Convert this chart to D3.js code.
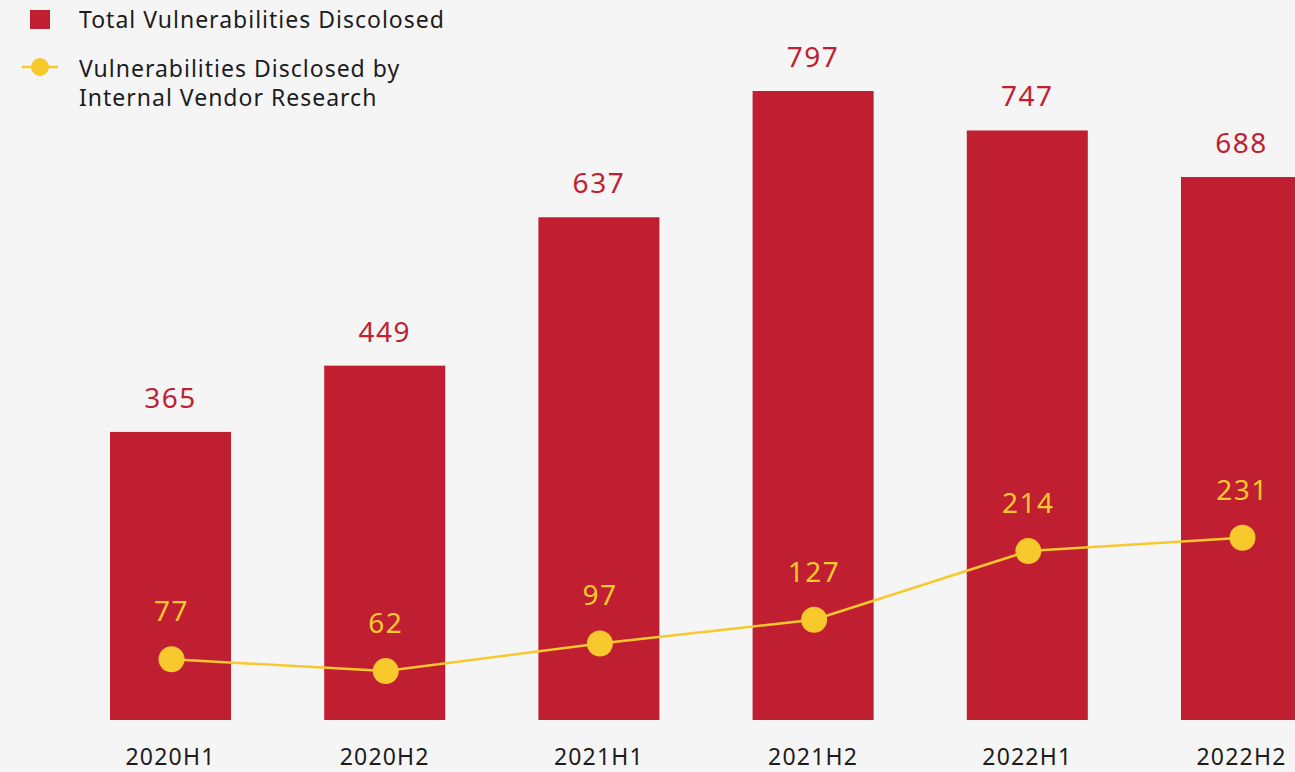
<!DOCTYPE html>
<html>
<head>
<meta charset="utf-8">
<script src="https://cdn.jsdelivr.net/npm/d3@7"></script>
<style>
  html, body { margin: 0; padding: 0; background: #f5f5f5; }
  svg { display: block; font-family: "Noto Sans", "Open Sans", sans-serif; }
</style>
</head>
<body>
<svg id="chart" width="1295" height="772"></svg>
<script>
// Half-year periods
const periods = ["2020H1", "2020H2", "2021H1", "2021H2", "2022H1", "2022H2"];
// Total vulnerabilities disclosed per period
const totalDisclosed = [365, 449, 637, 797, 747, 688];
// Vulnerabilities disclosed by internal vendor research
const internalResearch = [77, 62, 97, 127, 214, 231];
// Legend entries
const legendLabels = ["Total Vulnerabilities Discolosed", ["Vulnerabilities Disclosed by", "Internal Vendor Research"]];

const RED = "#c01f32";
const YELLOW = "#f8c92c";
const TEXT = "#1c1c1c";

const svg = d3.select("#chart");

const x = d3.scaleBand()
  .domain(periods)
  .range([110, 1302])
  .paddingInner(0.435)
  .paddingOuter(0);

const y = d3.scaleLinear()
  .domain([0, 797])
  .range([720, 91]);

// Bars
svg.append("g").selectAll("rect")
  .data(periods)
  .join("rect")
  .attr("x", d => x(d))
  .attr("y", (d, i) => y(totalDisclosed[i]))
  .attr("width", x.bandwidth())
  .attr("height", (d, i) => y(0) - y(totalDisclosed[i]))
  .attr("fill", RED);

// Bar value labels
svg.append("g").selectAll("text")
  .data(periods)
  .join("text")
  .attr("x", d => x(d) + x.bandwidth() / 2)
  .attr("y", (d, i) => y(totalDisclosed[i]) - 24)
  .attr("text-anchor", "middle")
  .attr("fill", RED)
  .attr("font-size", 28)
  .attr("letter-spacing", 1.5)
  .text((d, i) => totalDisclosed[i]);

// Internal research line
const cx = d => x(d) + x.bandwidth() / 2 + 1;
const line = d3.line()
  .x(d => cx(d.p))
  .y(d => y(d.v));
const lineData = periods.map((p, i) => ({ p, v: internalResearch[i] }));

svg.append("path")
  .datum(lineData)
  .attr("d", line)
  .attr("fill", "none")
  .attr("stroke", YELLOW)
  .attr("stroke-width", 2.5);

svg.append("g").selectAll("circle")
  .data(lineData)
  .join("circle")
  .attr("cx", d => cx(d.p))
  .attr("cy", d => y(d.v))
  .attr("r", 13)
  .attr("fill", YELLOW);

svg.append("g").selectAll("text")
  .data(lineData)
  .join("text")
  .attr("x", d => cx(d.p))
  .attr("y", d => y(d.v) - 38)
  .attr("text-anchor", "middle")
  .attr("fill", YELLOW)
  .attr("font-size", 28)
  .attr("letter-spacing", 1.5)
  .text(d => d.v);

// X axis labels
const xAxis = d3.axisBottom(x).tickSize(0).tickPadding(0);
const gx = svg.append("g")
  .attr("transform", "translate(0,747)")
  .call(xAxis);
gx.select(".domain").remove();
gx.selectAll("text")
  .attr("font-family", "\"Noto Sans\", sans-serif")
  .attr("font-size", 23)
  .attr("letter-spacing", 1.2)
  .attr("fill", TEXT)
  .attr("dy", "0.8em");

// Legend
const legend = svg.append("g")
  .attr("font-size", 23)
  .attr("letter-spacing", 1);
legend.append("rect")
  .attr("x", 30).attr("y", 10)
  .attr("width", 20).attr("height", 19)
  .attr("fill", RED);
legend.append("text")
  .attr("x", 79).attr("y", 28)
  .attr("fill", TEXT)
  .text(legendLabels[0]);

legend.append("line")
  .attr("x1", 22).attr("x2", 58)
  .attr("y1", 67).attr("y2", 67)
  .attr("stroke", YELLOW)
  .attr("stroke-width", 2.5);
legend.append("circle")
  .attr("cx", 40).attr("cy", 67).attr("r", 9)
  .attr("fill", YELLOW);
legend.append("text")
  .attr("fill", TEXT)
  .selectAll("tspan")
  .data(legendLabels[1])
  .join("tspan")
  .attr("x", 79)
  .attr("y", (d, i) => 77 + i * 29)
  .text(d => d);
</script>
</body>
</html>
